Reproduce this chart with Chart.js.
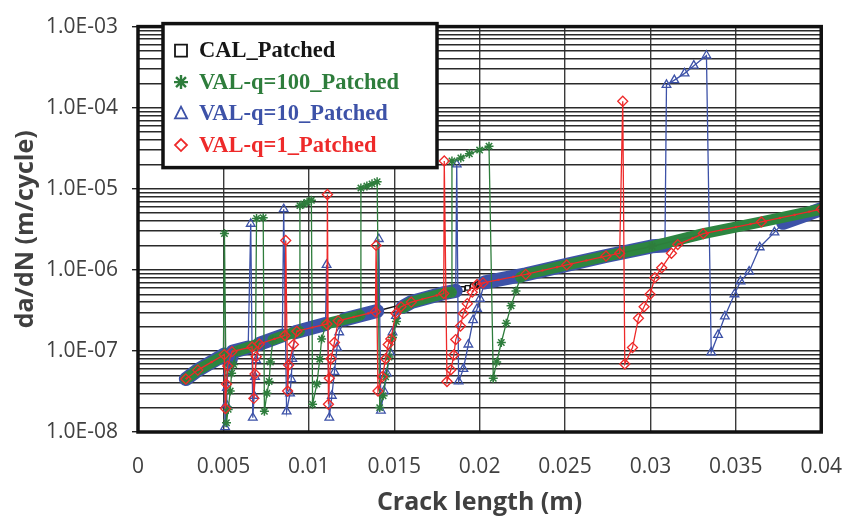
<!DOCTYPE html>
<html>
<head>
<meta charset="utf-8">
<script src="https://cdn.jsdelivr.net/npm/chart.js@4.4.1/dist/chart.umd.min.js"></script>
<style>
  html, body { margin: 0; padding: 0; background: #fff; }
  #wrap { width: 864px; height: 519px; }
</style>
</head>
<body>
<div id="wrap"><canvas id="crackChart" width="864" height="519"></canvas></div>
<script>
// da/dN vs crack length

// common growth curve (all runs sit on it away from the patch spikes)
const baseX = [0.0028, 0.0035, 0.0052, 0.0070, 0.0087, 0.0112, 0.0140, 0.0160, 0.0180, 0.0200, 0.0227, 0.0251, 0.0274, 0.0301, 0.0331, 0.0365, 0.0400];
const baseY = [4.5e-8, 5.8e-8, 9.1e-8, 1.2e-7, 1.58e-7, 2.2e-7, 3.1e-7, 4.0e-7, 5.2e-7, 6.8e-7, 8.8e-7, 1.15e-6, 1.48e-6, 1.95e-6, 2.8e-6, 3.9e-6, 5.6e-6];

// CAL points visible where the others leave the curve
const calExtraX = [0.0184, 0.0187, 0.0190, 0.0193, 0.0196, 0.0199, 0.0203];
const calExtraY = [5.4e-7, 5.6e-7, 5.8e-7, 6.0e-7, 6.3e-7, 6.6e-7, 7.0e-7];

// VAL-q=100 spikes
const q100SpikeX = [
  [0.00500, 0.00506, 0.00518, 0.00528, 0.00540, 0.00548, 0.00560, 0.00580],
  [0.00688, 0.00694, 0.00733, 0.00740, 0.00755, 0.00768, 0.00775, 0.00790],
  [0.00945, 0.00948, 0.00970, 0.00990, 0.01015, 0.01022, 0.01047, 0.01064, 0.01075, 0.01100],
  [0.01300, 0.01305, 0.01340, 0.01370, 0.01400, 0.01415, 0.01435, 0.01450, 0.01470, 0.01490, 0.01513, 0.01550],
  [0.01835, 0.01838, 0.01890, 0.01940, 0.02000, 0.02055, 0.02080, 0.02100, 0.02127, 0.02156, 0.02184, 0.02213, 0.02240, 0.02270]
];
const q100SpikeY = [
  [8.7e-8, 2.8e-6, 1.3e-8, 1.9e-8, 3.2e-8, 5.3e-8, 6.8e-8, 1.0e-7],
  [1.18e-7, 4.3e-6, 4.4e-6, 1.8e-8, 3.0e-8, 4.2e-8, 7.3e-8, 1.38e-7],
  [1.75e-7, 6.2e-6, 6.5e-6, 6.8e-6, 7.2e-6, 2.2e-8, 3.9e-8, 7.9e-8, 1.4e-7, 2.1e-7],
  [2.75e-7, 1.02e-5, 1.08e-5, 1.15e-5, 1.22e-5, 2.0e-8, 2.8e-8, 4.8e-8, 8.4e-8, 1.46e-7, 2.3e-7, 3.4e-7],
  [5.3e-7, 2.2e-5, 2.4e-5, 2.7e-5, 3.0e-5, 3.35e-5, 4.6e-8, 7.3e-8, 1.27e-7, 2.2e-7, 3.6e-7, 5.5e-7, 8.1e-7, 8.8e-7]
];

// VAL-q=10 spikes
const q10SpikeX = [
  [0.00505, 0.00510, 0.00516, 0.00520, 0.00526, 0.00540, 0.00555],
  [0.00645, 0.00660, 0.00672, 0.00680, 0.00685, 0.00692, 0.00710],
  [0.00845, 0.00853, 0.00870, 0.00890, 0.00897, 0.00903, 0.00920],
  [0.01098, 0.01104, 0.01120, 0.01135, 0.01150, 0.01165, 0.01178, 0.01210],
  [0.01405, 0.01410, 0.01422, 0.01440, 0.01457, 0.01475, 0.01490, 0.01510, 0.01550],
  [0.01860, 0.01866, 0.01877, 0.01905, 0.01934, 0.01962, 0.01985, 0.02002, 0.02030],
  [0.03085, 0.03094, 0.03140, 0.03200, 0.03254, 0.03328, 0.03356, 0.03396, 0.03436, 0.03492, 0.03527, 0.03578, 0.03640, 0.03726, 0.03777, 0.03900]
];
const q10SpikeY = [
  [9.0e-8, 1.15e-8, 2.2e-8, 3.5e-8, 5.5e-8, 7.5e-8, 9.8e-8],
  [1.1e-7, 3.7e-6, 1.5e-8, 2.8e-8, 4.8e-8, 7.7e-8, 1.22e-7],
  [1.55e-7, 5.6e-6, 1.8e-8, 3.0e-8, 4.5e-8, 8.0e-8, 1.7e-7],
  [2.15e-7, 1.15e-6, 1.5e-8, 2.8e-8, 5.5e-8, 1.1e-7, 1.7e-7, 2.45e-7],
  [3.1e-7, 2.4e-6, 1.84e-8, 3.2e-8, 5.3e-8, 9.7e-8, 1.7e-7, 2.7e-7, 3.5e-7],
  [5.5e-7, 2.0e-5, 4.2e-8, 6.0e-8, 1.2e-7, 2.4e-7, 3.3e-7, 4.4e-7, 7.0e-7],
  [2.0e-6, 1.91e-4, 2.19e-4, 2.65e-4, 3.3e-4, 4.4e-4, 9.6e-8, 1.58e-7, 2.67e-7, 5.0e-7, 7.2e-7, 9.5e-7, 1.9e-6, 2.9e-6, 3.8e-6, 4.7e-6]
];

// VAL-q=1 spikes
const q1SpikeX = [
  [0.00505, 0.00512, 0.00518, 0.00525, 0.00550],
  [0.00668, 0.00678, 0.00685, 0.00692, 0.00710],
  [0.00860, 0.00865, 0.00876, 0.00882, 0.00910, 0.00930],
  [0.01106, 0.01109, 0.01115, 0.01120, 0.01130, 0.01150, 0.01172],
  [0.01390, 0.01394, 0.01405, 0.01430, 0.01450, 0.01465, 0.01480, 0.01510, 0.01540],
  [0.01790, 0.01793, 0.01809, 0.01832, 0.01849, 0.01860, 0.01888, 0.01905, 0.01928, 0.01957, 0.01985, 0.02020],
  [0.02820, 0.02838, 0.02850, 0.02895, 0.02930, 0.02963, 0.02998, 0.03026, 0.03066, 0.03123, 0.03160]
];
const q1SpikeY = [
  [9.0e-8, 1.95e-8, 3.9e-8, 6.5e-8, 9.8e-8],
  [1.12e-7, 2.6e-8, 5.2e-8, 8.5e-8, 1.22e-7],
  [1.55e-7, 2.3e-6, 3.2e-8, 6.7e-8, 1.2e-7, 1.75e-7],
  [2.15e-7, 8.5e-6, 2.2e-8, 4.6e-8, 8.0e-8, 1.27e-7, 2.35e-7],
  [3.05e-7, 2.0e-6, 3.2e-8, 4.8e-8, 8.0e-8, 1.2e-7, 1.4e-7, 2.9e-7, 3.5e-7],
  [5.1e-7, 2.2e-5, 4.2e-8, 5.85e-8, 8.9e-8, 1.38e-7, 2.03e-7, 2.9e-7, 3.83e-7, 5.3e-7, 6.6e-7, 6.9e-7],
  [1.6e-6, 1.2e-4, 6.9e-8, 1.1e-7, 2.53e-7, 3.5e-7, 5.0e-7, 8.0e-7, 1.06e-6, 1.6e-6, 2.05e-6]
];

const yDecades = [-8, -7, -6, -5, -4, -3];
const xTickStep = 0.005;

// put the spikes into the common curve
function buildSeries(spikeX, spikeY) {
  const pts = [];
  let k = 0;
  spikeX.forEach((sx, s) => {
    while (k < baseX.length && baseX[k] < sx[0]) { pts.push({ x: baseX[k], y: baseY[k] }); k++; }
    sx.forEach((x, i) => pts.push({ x: x, y: spikeY[s][i] }));
    while (k < baseX.length && baseX[k] <= sx[sx.length - 1]) k++;
  });
  while (k < baseX.length) { pts.push({ x: baseX[k], y: baseY[k] }); k++; }
  return pts;
}

const calPts = baseX.map((x, i) => ({ x: x, y: baseY[i] }))
  .concat(calExtraX.map((x, i) => ({ x: x, y: calExtraY[i] })))
  .sort((a, b) => a.x - b.x);
const q100Pts = buildSeries(q100SpikeX, q100SpikeY);
const q10Pts = buildSeries(q10SpikeX, q10SpikeY);
const q1Pts = buildSeries(q1SpikeX, q1SpikeY);

// the thick marker band: only the stretches that sit on the common curve
function curveAt(x) {
  if (x <= baseX[0]) return baseY[0];
  for (let i = 1; i < baseX.length; i++) {
    if (x <= baseX[i]) {
      const t = (x - baseX[i - 1]) / (baseX[i] - baseX[i - 1]);
      return Math.pow(10, Math.log10(baseY[i - 1]) + t * (Math.log10(baseY[i]) - Math.log10(baseY[i - 1])));
    }
  }
  return baseY[baseY.length - 1];
}
function onCurve(p) {
  const r = p.y / curveAt(p.x);
  return r > 0.78 && r < 1.3;
}
function bandOf(pts) {
  return pts.map(p => onCurve(p) ? { x: p.x, y: p.y } : { x: p.x, y: null });
}

const GREEN = '#2e7d3c';
const BLUE = '#3d52a8';
const RED = '#ee2a2a';
const BLACK = '#151515';

function bandSet(pts, color, width, dash) {
  return {
    band: true, label: '', data: bandOf(pts),
    borderColor: color, borderWidth: width, borderDash: dash,
    borderCapStyle: dash.length ? 'butt' : 'round', borderJoinStyle: 'round',
    pointRadius: 0, spanGaps: false
  };
}

// array order = drawing order, top first
const datasets = [
  {
    label: 'VAL-q=1_Patched', data: q1Pts, legendRank: 3,
    borderColor: RED, borderWidth: 1.3,
    pointStyle: 'rectRot', pointRadius: 5, pointBorderWidth: 1.3,
    pointBorderColor: RED, pointBackgroundColor: 'rgba(0,0,0,0)'
  },
  bandSet(q1Pts, RED, 2.2, [2, 13]),
  {
    label: 'VAL-q=100_Patched', data: q100Pts, legendRank: 1,
    borderColor: GREEN, borderWidth: 1.3,
    pointStyle: 'star', pointRadius: 4.5, pointBorderWidth: 1.5,
    pointBorderColor: GREEN, pointBackgroundColor: GREEN
  },
  bandSet(q100Pts, '#2d8540', 11, []),
  {
    label: 'VAL-q=10_Patched', data: q10Pts, legendRank: 2,
    borderColor: BLUE, borderWidth: 1.3,
    pointStyle: 'triangle', pointRadius: 5, pointBorderWidth: 1.3,
    pointBorderColor: BLUE, pointBackgroundColor: 'rgba(0,0,0,0)'
  },
  bandSet(q10Pts, BLUE, 14, []),
  {
    label: 'CAL_Patched', data: calPts, legendRank: 0,
    borderColor: BLACK, borderWidth: 1.5,
    pointStyle: 'rect', pointRadius: 3.2, pointBorderWidth: 1.3,
    pointBorderColor: BLACK, pointBackgroundColor: '#fff'
  }
];

function sciLabel(v) {
  const e = Math.round(Math.log10(v));
  const a = Math.abs(e);
  return '1.0E' + (e < 0 ? '-' : '+') + (a < 10 ? '0' : '') + a;
}

// plot frame
const framePlugin = {
  id: 'frame',
  afterDatasetsDraw(chart) {
    const { ctx, chartArea: a } = chart;
    ctx.save();
    ctx.strokeStyle = '#111';
    ctx.lineWidth = 3.5;
    ctx.strokeRect(a.left, a.top, a.right - a.left, a.bottom - a.top);
    ctx.restore();
  }
};

function drawMarker(ctx, style, x, y, r) {
  ctx.beginPath();
  if (style === 'rect') {
    ctx.rect(x - r, y - r, 2 * r, 2 * r);
  } else if (style === 'triangle') {
    ctx.moveTo(x, y - r * 1.15); ctx.lineTo(x + r, y + r * 0.8); ctx.lineTo(x - r, y + r * 0.8); ctx.closePath();
  } else if (style === 'rectRot') {
    ctx.moveTo(x, y - r); ctx.lineTo(x + r, y); ctx.lineTo(x, y + r); ctx.lineTo(x - r, y); ctx.closePath();
  } else {
    for (let k = 0; k < 4; k++) {
      const ang = k * Math.PI / 4;
      ctx.moveTo(x - r * Math.cos(ang), y - r * Math.sin(ang));
      ctx.lineTo(x + r * Math.cos(ang), y + r * Math.sin(ang));
    }
  }
  ctx.stroke();
}

// boxed legend in the upper left of the plot
const boxLegend = {
  id: 'boxLegend',
  afterDraw(chart) {
    const { ctx, chartArea: a } = chart;
    const left = a.left + 25, top = a.top - 3, w = 274, h = 144;
    ctx.save();
    ctx.fillStyle = '#fff';
    ctx.fillRect(left, top, w, h);
    ctx.lineWidth = 3.5;
    ctx.strokeStyle = '#111';
    ctx.strokeRect(left, top, w, h);
    ctx.font = 'bold 22.5px "Liberation Serif", "Times New Roman", serif';
    ctx.textBaseline = 'middle';
    chart.data.datasets.filter(ds => !ds.band)
      .sort((p, q) => p.legendRank - q.legendRank)
      .forEach((ds, i) => {
        const y = top + 27 + i * 31.5;
        ctx.strokeStyle = ds.borderColor;
        ctx.lineWidth = ds.pointStyle === 'star' ? 2.4 : 1.8;
        drawMarker(ctx, ds.pointStyle, left + 18, y, ds.pointStyle === 'star' ? 7 : 6);
        ctx.fillStyle = ds.borderColor;
        ctx.fillText(ds.label, left + 36, y + 1);
      });
    ctx.restore();
  }
};

Chart.defaults.font.family = '"Open Sans", sans-serif';
Chart.defaults.color = '#404040';

new Chart(document.getElementById('crackChart'), {
  type: 'line',
  data: { datasets: datasets },
  options: {
    responsive: false,
    animation: false,
    events: [],
    layout: { padding: { top: 16, right: 22, bottom: 0, left: 0 } },
    elements: { line: { tension: 0 } },
    plugins: { legend: { display: false }, tooltip: { enabled: false } },
    scales: {
      x: {
        type: 'linear', min: 0, max: 0.04,
        afterFit: s => { s.height = 87; },
        ticks: {
          stepSize: xTickStep, padding: 22, color: '#404040',
          font: { size: 21 },
          callback: v => String(+v.toFixed(3))
        },
        grid: { color: '#3a3a3a', lineWidth: 1.4, drawTicks: false },
        border: { display: false },
        title: {
          display: true, text: 'Crack length (m)', color: '#404040',
          font: { size: 25, weight: 'bold' }, padding: { top: 0, bottom: 1 }
        }
      },
      y: {
        type: 'logarithmic', min: 1e-8, max: 1e-3,
        afterFit: s => { s.width = 138; },
        afterBuildTicks: s => {
          const t = [];
          yDecades.forEach(d => {
            if (d === yDecades[yDecades.length - 1]) { t.push({ value: Math.pow(10, d), major: true }); return; }
            for (let m = 1; m <= 9; m++) t.push({ value: m * Math.pow(10, d), major: m === 1 });
          });
          s.ticks = t;
        },
        ticks: {
          autoSkip: false, padding: 14, color: '#404040',
          font: { size: 21 },
          callback: (v, i, ticks) => ticks[i].major ? sciLabel(v) : ''
        },
        grid: {
          color: '#2a2a2a', lineWidth: 1.4, tickLength: 6,
          tickColor: c => (c.tick && c.tick.major) ? '#222' : 'rgba(0,0,0,0)'
        },
        border: { display: false },
        title: {
          display: true, text: 'da/dN (m/cycle)', color: '#404040',
          font: { size: 25, weight: 'bold' }, padding: { top: 11, bottom: 0 }
        }
      }
    }
  },
  plugins: [framePlugin, boxLegend]
});
</script>
</body>
</html>
